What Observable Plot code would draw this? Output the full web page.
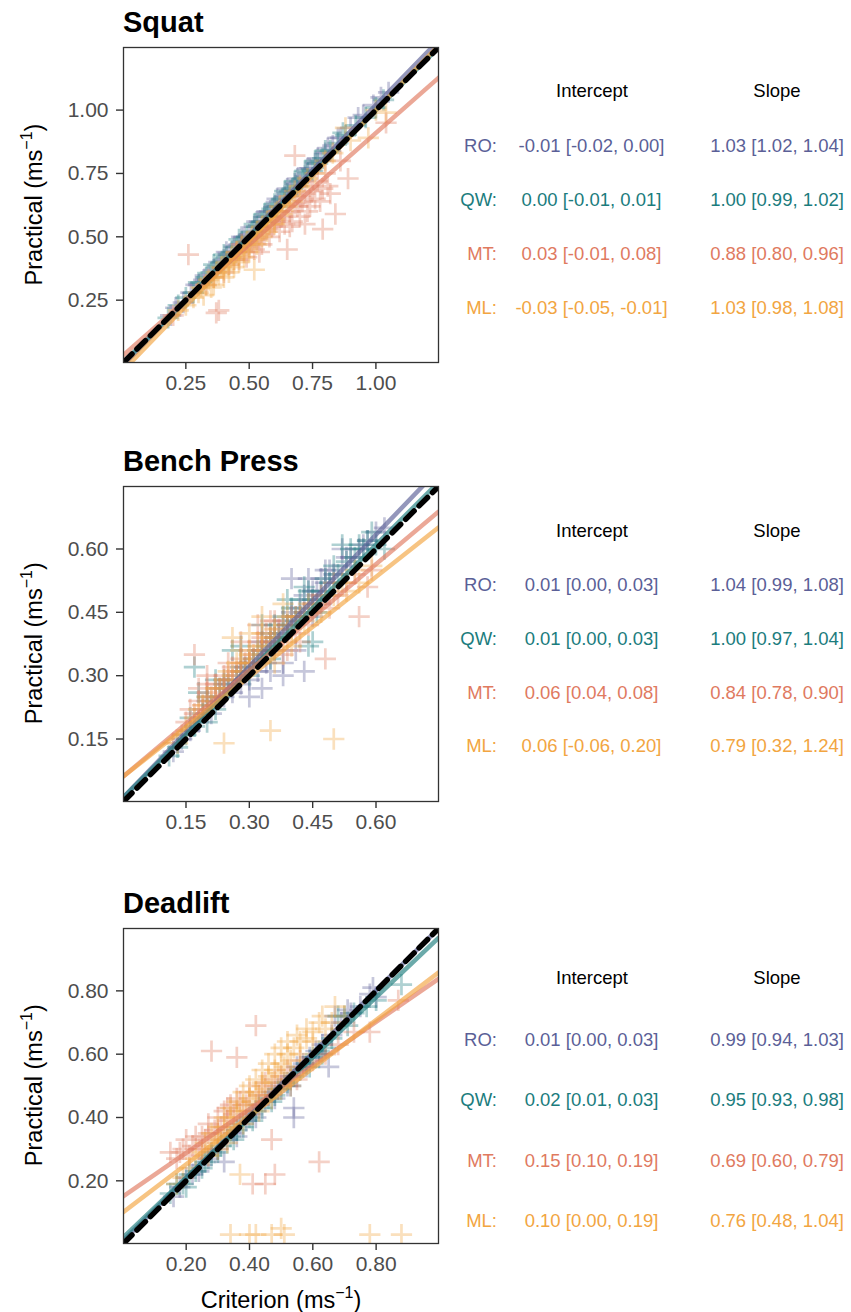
<!DOCTYPE html>
<html><head><meta charset="utf-8">
<script src="https://cdn.jsdelivr.net/npm/d3@7"></script>
<script src="https://cdn.jsdelivr.net/npm/@observablehq/plot@0.6"></script>
<style>
body{margin:0;background:#fff;font-family:"Liberation Sans",Arial,Helvetica,sans-serif;}
#root{position:relative;width:851px;height:1312px;overflow:hidden;background:#fff;}
#root > svg.plotpanel{position:absolute;left:0;}
#overlay{position:absolute;left:0;top:0;pointer-events:none;}
</style></head><body><div id="root"></div>
<script>
// ---------- shared ----------
const groups = ["RO", "QW", "MT", "ML"];
const colors = ["#5B5F97", "#1B7C7D", "#E07A5F", "#F2A541"];

// ---------- Squat ----------
const squatDomain = [0.004, 1.247];
const squatTicks = [0.25, 0.50, 0.75, 1.00];
const squatRO = [[0.19,0.19],[0.21,0.22],[0.24,0.24],[0.27,0.28],[0.30,0.31],[0.32,0.33],[0.34,0.35],[0.36,0.37],[0.38,0.40],[0.40,0.41],[0.42,0.43],[0.44,0.46],[0.46,0.47],[0.48,0.50],[0.50,0.51],[0.52,0.54],[0.54,0.56],[0.56,0.58],[0.58,0.60],[0.60,0.62],[0.62,0.64],[0.64,0.66],[0.66,0.68],[0.68,0.71],[0.70,0.72],[0.72,0.74],[0.74,0.77],[0.76,0.79],[0.78,0.80],[0.80,0.83],[0.83,0.86],[0.86,0.89],[0.90,0.93],[0.95,0.98],[0.99,1.02],[1.02,1.05],[1.05,1.07],
  [0.29,0.31],[0.41,0.44],[0.47,0.50],[0.53,0.56],[0.57,0.60],[0.61,0.65],[0.65,0.69],[0.69,0.73],[0.73,0.77],[0.77,0.81],[0.81,0.85],[0.85,0.89],[0.93,0.97]];
const squatQW = [[0.18,0.18],[0.22,0.23],[0.25,0.26],[0.28,0.28],[0.31,0.32],[0.33,0.34],[0.35,0.36],[0.37,0.38],[0.39,0.40],[0.41,0.42],[0.43,0.44],[0.45,0.46],[0.47,0.48],[0.49,0.50],[0.51,0.52],[0.53,0.54],[0.55,0.56],[0.57,0.58],[0.59,0.61],[0.61,0.62],[0.63,0.65],[0.65,0.67],[0.67,0.69],[0.69,0.70],[0.71,0.73],[0.73,0.75],[0.75,0.76],[0.77,0.79],[0.79,0.81],[0.82,0.84],[0.85,0.87],[0.88,0.90],[0.92,0.94],[0.96,0.97],[1.00,1.01],[1.03,1.04],
  [0.30,0.32],[0.36,0.39],[0.40,0.43],[0.46,0.49],[0.52,0.55],[0.56,0.59],[0.60,0.63],[0.64,0.68],[0.68,0.72],[0.72,0.76],[0.76,0.80],[0.80,0.84],[0.87,0.91]];
const squatMT = [[0.20,0.19],[0.26,0.43],[0.37,0.20],[0.38,0.21],[0.33,0.31],[0.36,0.34],[0.40,0.36],[0.42,0.39],[0.44,0.41],[0.46,0.41],[0.48,0.44],[0.50,0.46],[0.52,0.45],[0.53,0.49],[0.55,0.47],[0.56,0.51],[0.58,0.50],[0.59,0.54],[0.60,0.56],[0.62,0.52],[0.63,0.58],[0.64,0.55],[0.65,0.45],[0.66,0.60],[0.67,0.56],[0.68,0.82],[0.69,0.62],[0.70,0.58],[0.71,0.64],[0.72,0.55],[0.72,0.67],[0.74,0.62],[0.75,0.68],[0.76,0.65],[0.77,0.72],[0.79,0.53],[0.79,0.69],[0.80,0.75],[0.82,0.67],[0.84,0.59],[0.86,0.80],[0.89,0.73],[1.04,0.95],
  [0.45,0.44],[0.47,0.47],[0.49,0.42],[0.51,0.48],[0.54,0.44],[0.57,0.53],[0.61,0.57],[0.62,0.60],[0.66,0.54],[0.68,0.63],[0.70,0.66],[0.73,0.60],[0.74,0.70],[0.78,0.64],[0.81,0.70]];
const squatML = [[0.22,0.21],[0.25,0.23],[0.28,0.26],[0.30,0.28],[0.31,0.30],[0.33,0.31],[0.34,0.33],[0.35,0.30],[0.36,0.34],[0.37,0.36],[0.38,0.35],[0.39,0.38],[0.40,0.37],[0.41,0.40],[0.42,0.39],[0.43,0.42],[0.44,0.41],[0.45,0.44],[0.46,0.43],[0.47,0.46],[0.48,0.45],[0.49,0.48],[0.50,0.47],[0.51,0.50],[0.52,0.37],[0.52,0.49],[0.53,0.52],[0.54,0.51],[0.55,0.54],[0.56,0.53],[0.57,0.56],[0.58,0.55],[0.59,0.58],[0.60,0.57],[0.61,0.60],[0.62,0.62],[0.64,0.63],[0.66,0.66],[0.68,0.68],[0.70,0.70],[0.73,0.73],[0.76,0.75],[0.80,0.80],[0.83,0.83],[0.88,0.93],[0.90,0.88],[0.97,0.89],[1.00,1.00],[1.04,0.99],
  [0.32,0.27],[0.36,0.31],[0.40,0.34],[0.42,0.36],[0.44,0.38],[0.46,0.40],[0.48,0.42],[0.50,0.44],[0.53,0.47],[0.55,0.50],[0.57,0.52],[0.60,0.55],[0.63,0.59],[0.65,0.62],[0.67,0.64]];
const squatInt = [-0.01, 0.00, 0.03, -0.03];
const squatIntLo = [-0.02, -0.01, -0.01, -0.05];
const squatIntHi = [0.00, 0.01, 0.08, -0.01];
const squatSlope = [1.03, 1.00, 0.88, 1.03];
const squatSlopeLo = [1.02, 0.99, 0.80, 0.98];
const squatSlopeHi = [1.04, 1.02, 0.96, 1.08];

// ---------- Bench Press ----------
const benchDomain = [0.002, 0.748];
const benchTicks = [0.15, 0.30, 0.45, 0.60];
const benchRO = [[0.12,0.12],[0.14,0.15],[0.16,0.17],[0.18,0.19],[0.19,0.22],[0.21,0.21],[0.22,0.24],[0.23,0.27],[0.24,0.25],[0.25,0.28],[0.26,0.26],[0.27,0.30],[0.28,0.28],[0.29,0.32],[0.30,0.29],[0.31,0.33],[0.32,0.31],[0.33,0.36],[0.34,0.33],[0.35,0.38],[0.36,0.36],[0.37,0.40],[0.38,0.33],[0.39,0.42],[0.40,0.53],[0.41,0.44],[0.42,0.46],[0.43,0.31],[0.44,0.48],[0.46,0.50],[0.47,0.47],[0.48,0.52],[0.50,0.54],[0.52,0.56],[0.54,0.58],[0.56,0.60],[0.58,0.62],[0.60,0.64],[0.62,0.65],
  [0.20,0.24],[0.24,0.29],[0.28,0.31],[0.30,0.33],[0.33,0.38],[0.36,0.39],[0.38,0.43],[0.40,0.45],[0.43,0.49],[0.45,0.50],[0.47,0.53],[0.49,0.55],[0.53,0.58],[0.57,0.61],
  [0.35,0.31],[0.38,0.30],[0.41,0.36],[0.45,0.44],[0.33,0.27],[0.30,0.25],[0.44,0.53],[0.48,0.55],[0.52,0.60]];
const benchQW = [[0.11,0.11],[0.13,0.13],[0.15,0.16],[0.17,0.32],[0.17,0.18],[0.18,0.26],[0.19,0.21],[0.20,0.19],[0.21,0.23],[0.22,0.22],[0.23,0.25],[0.25,0.27],[0.26,0.36],[0.27,0.29],[0.29,0.31],[0.30,0.30],[0.31,0.34],[0.33,0.35],[0.34,0.37],[0.35,0.34],[0.36,0.42],[0.37,0.39],[0.39,0.42],[0.41,0.43],[0.43,0.45],[0.44,0.37],[0.45,0.48],[0.46,0.45],[0.47,0.50],[0.49,0.52],[0.51,0.54],[0.53,0.57],[0.55,0.58],[0.57,0.60],[0.58,0.62],[0.60,0.61],[0.62,0.60],
  [0.16,0.20],[0.20,0.25],[0.24,0.28],[0.28,0.32],[0.32,0.36],[0.35,0.40],[0.38,0.44],[0.40,0.46],[0.42,0.48],[0.44,0.50],[0.48,0.53],[0.50,0.56],[0.54,0.60],[0.56,0.61],
  [0.39,0.48],[0.43,0.51],[0.33,0.42],[0.28,0.37],[0.22,0.29],[0.45,0.38],[0.52,0.61],[0.59,0.64]];
const benchMT = [[0.12,0.14],[0.14,0.16],[0.15,0.19],[0.17,0.35],[0.17,0.21],[0.18,0.24],[0.19,0.23],[0.20,0.26],[0.21,0.25],[0.22,0.28],[0.23,0.27],[0.24,0.30],[0.25,0.29],[0.26,0.32],[0.27,0.31],[0.28,0.34],[0.29,0.33],[0.30,0.36],[0.31,0.35],[0.32,0.38],[0.33,0.36],[0.34,0.40],[0.35,0.38],[0.37,0.41],[0.38,0.35],[0.39,0.42],[0.41,0.40],[0.42,0.44],[0.44,0.42],[0.46,0.47],[0.48,0.34],[0.49,0.46],[0.51,0.49],[0.53,0.52],[0.56,0.44],[0.58,0.51],[0.59,0.55],
  [0.16,0.22],[0.18,0.27],[0.20,0.28],[0.22,0.25],[0.24,0.27],[0.26,0.29],[0.28,0.31],[0.30,0.33],[0.33,0.39],[0.36,0.43],[0.40,0.44],[0.43,0.45],[0.45,0.47],[0.47,0.49],[0.50,0.52],[0.55,0.54],
  [0.28,0.38],[0.32,0.42],[0.35,0.43],[0.39,0.36],[0.42,0.38],[0.20,0.30],[0.25,0.33]];
const benchML = [[0.13,0.14],[0.15,0.17],[0.17,0.20],[0.19,0.23],[0.21,0.24],[0.22,0.27],[0.24,0.14],[0.24,0.29],[0.26,0.39],[0.26,0.30],[0.28,0.33],[0.29,0.31],[0.30,0.35],[0.31,0.34],[0.32,0.37],[0.33,0.40],[0.34,0.36],[0.35,0.17],[0.35,0.39],[0.36,0.41],[0.37,0.38],[0.38,0.42],[0.40,0.41],[0.41,0.44],[0.43,0.43],[0.45,0.46],[0.47,0.45],[0.50,0.15],[0.50,0.49],[0.53,0.50],[0.56,0.52],[0.59,0.56],
  [0.18,0.22],[0.20,0.25],[0.23,0.27],[0.25,0.31],[0.27,0.33],[0.30,0.33],[0.33,0.37],[0.36,0.39],[0.39,0.44],[0.42,0.44],[0.44,0.47],[0.48,0.49],[0.52,0.52],[0.55,0.55],
  [0.30,0.40],[0.33,0.44],[0.38,0.47],[0.36,0.33],[0.40,0.37],[0.28,0.36]];
const benchInt = [0.01, 0.01, 0.06, 0.06];
const benchIntLo = [0.00, 0.00, 0.04, -0.06];
const benchIntHi = [0.03, 0.03, 0.08, 0.20];
const benchSlope = [1.04, 1.00, 0.84, 0.79];
const benchSlopeLo = [0.99, 0.97, 0.78, 0.32];
const benchSlopeHi = [1.08, 1.04, 0.90, 1.24];

// ---------- Deadlift ----------
const deadDomain = [0.002, 0.997];
const deadTicks = [0.20, 0.40, 0.60, 0.80];
const deadRO = [[0.16,0.15],[0.18,0.18],[0.20,0.21],[0.22,0.22],[0.25,0.25],[0.27,0.27],[0.30,0.30],[0.32,0.26],[0.33,0.33],[0.35,0.35],[0.37,0.38],[0.39,0.39],[0.41,0.41],[0.43,0.44],[0.45,0.45],[0.47,0.48],[0.49,0.49],[0.51,0.51],[0.53,0.53],[0.54,0.43],[0.54,0.40],[0.55,0.56],[0.57,0.57],[0.59,0.59],[0.61,0.61],[0.63,0.63],[0.65,0.56],[0.66,0.66],[0.69,0.70],[0.72,0.73],[0.75,0.75],[0.78,0.79],[0.79,0.81],[0.80,0.78],
  [0.24,0.23],[0.28,0.29],[0.36,0.34],[0.42,0.40],[0.48,0.46],[0.52,0.50],[0.58,0.56],[0.62,0.60],[0.67,0.72],[0.71,0.74]];
const deadQW = [[0.15,0.16],[0.17,0.19],[0.19,0.19],[0.21,0.22],[0.23,0.23],[0.26,0.26],[0.28,0.28],[0.31,0.31],[0.34,0.34],[0.36,0.36],[0.38,0.37],[0.40,0.40],[0.42,0.42],[0.44,0.43],[0.46,0.46],[0.48,0.47],[0.50,0.49],[0.52,0.51],[0.54,0.53],[0.56,0.55],[0.58,0.57],[0.60,0.59],[0.62,0.61],[0.64,0.62],[0.66,0.65],[0.68,0.72],[0.71,0.69],[0.73,0.73],[0.77,0.75],[0.80,0.77],[0.88,0.82],
  [0.20,0.18],[0.25,0.24],[0.30,0.29],[0.35,0.33],[0.41,0.39],[0.47,0.45],[0.53,0.50],[0.59,0.56],[0.63,0.60],[0.70,0.72]];
const deadMT = [[0.15,0.29],[0.17,0.27],[0.19,0.30],[0.21,0.28],[0.22,0.31],[0.24,0.30],[0.25,0.34],[0.26,0.33],[0.27,0.38],[0.28,0.61],[0.29,0.36],[0.30,0.40],[0.31,0.37],[0.32,0.42],[0.33,0.39],[0.34,0.44],[0.36,0.59],[0.36,0.46],[0.38,0.42],[0.40,0.48],[0.41,0.19],[0.42,0.69],[0.42,0.44],[0.44,0.50],[0.45,0.19],[0.46,0.47],[0.47,0.33],[0.48,0.22],[0.48,0.52],[0.50,0.50],[0.52,0.55],[0.55,0.52],[0.57,0.56],[0.60,0.58],[0.62,0.26],[0.64,0.60],[0.68,0.63],[0.73,0.67],[0.78,0.67],[0.87,0.77],
  [0.18,0.29],[0.20,0.33],[0.23,0.34],[0.25,0.30],[0.27,0.35],[0.30,0.35],[0.33,0.43],[0.35,0.41],[0.37,0.45],[0.39,0.44],[0.43,0.47],[0.45,0.51],[0.50,0.53],[0.53,0.50],[0.56,0.58]];
const deadML = [[0.17,0.19],[0.19,0.21],[0.21,0.24],[0.23,0.27],[0.25,0.29],[0.26,0.32],[0.27,0.28],[0.28,0.35],[0.29,0.31],[0.30,0.37],[0.31,0.33],[0.32,0.40],[0.33,0.36],[0.34,0.03],[0.34,0.43],[0.35,0.38],[0.36,0.45],[0.37,0.22],[0.37,0.40],[0.38,0.48],[0.39,0.42],[0.40,0.03],[0.40,0.50],[0.41,0.45],[0.42,0.52],[0.42,0.03],[0.43,0.47],[0.44,0.55],[0.45,0.49],[0.46,0.57],[0.47,0.03],[0.47,0.51],[0.48,0.60],[0.49,0.54],[0.50,0.05],[0.50,0.62],[0.51,0.03],[0.51,0.56],[0.52,0.64],[0.53,0.58],[0.55,0.66],[0.56,0.60],[0.58,0.68],[0.60,0.64],[0.62,0.70],[0.64,0.68],[0.67,0.75],[0.70,0.72],[0.78,0.03],[0.88,0.03],
  [0.30,0.34],[0.32,0.37],[0.34,0.40],[0.36,0.42],[0.38,0.44],[0.40,0.46],[0.42,0.48],[0.44,0.51],[0.46,0.53],[0.48,0.55],[0.50,0.57],[0.52,0.60],[0.54,0.62],[0.56,0.64],[0.58,0.65],[0.60,0.67],[0.63,0.72],[0.66,0.70],[0.30,0.30],[0.33,0.32],[0.38,0.38],[0.43,0.42],[0.47,0.46],[0.53,0.52]];
const deadInt = [0.01, 0.02, 0.15, 0.10];
const deadIntLo = [0.00, 0.01, 0.10, 0.00];
const deadIntHi = [0.03, 0.03, 0.19, 0.19];
const deadSlope = [0.99, 0.95, 0.69, 0.76];
const deadSlopeLo = [0.94, 0.93, 0.60, 0.48];
const deadSlopeHi = [1.03, 0.98, 0.79, 1.04];

// ---------- text ----------
const titles = ["Squat", "Bench Press", "Deadlift"];
const yLabel = "Practical (ms";
const xLabel = "Criterion (ms";
const headers = ["Intercept", "Slope"];

// ---------- layout ----------
const FONT = '"Liberation Sans", Arial, Helvetica, sans-serif';
const frameTops = [47, 485.7, 927.7];
const frameLeft = 123, frameSize = 315;
const tableRows = [
  [97.3, 151.7, 205.9, 260.0, 314.0],
  [536.7, 590.7, 645.0, 699.0, 752.3],
  [984.3, 1045.7, 1106.0, 1166.7, 1226.7]
];

const panels = [
  {domain: squatDomain, ticks: squatTicks, series: [squatRO, squatQW, squatMT, squatML],
   int: squatInt, intLo: squatIntLo, intHi: squatIntHi, slope: squatSlope, slopeLo: squatSlopeLo, slopeHi: squatSlopeHi},
  {domain: benchDomain, ticks: benchTicks, series: [benchRO, benchQW, benchMT, benchML],
   int: benchInt, intLo: benchIntLo, intHi: benchIntHi, slope: benchSlope, slopeLo: benchSlopeLo, slopeHi: benchSlopeHi},
  {domain: deadDomain, ticks: deadTicks, series: [deadRO, deadQW, deadMT, deadML],
   int: deadInt, intLo: deadIntLo, intHi: deadIntHi, slope: deadSlope, slopeLo: deadSlopeLo, slopeHi: deadSlopeHi}
];

const root = document.getElementById("root");
const f2 = v => v.toFixed(2);

panels.forEach((p, i) => {
  const points = p.series.flatMap((arr, k) => arr.map(([x, y]) => ({g: groups[k], x, y})));
  const reg = groups.flatMap((g, k) => p.domain.map(x => ({g, x, y: p.int[k] + p.slope[k] * x})));
  const ident = p.domain.map(x => ({x, y: x}));
  const chart = Plot.plot({
    width: 445, height: 47 + frameSize + 48,
    marginLeft: frameLeft, marginRight: 445 - frameLeft - frameSize, marginTop: 47, marginBottom: 48,
    x: {domain: p.domain, label: null},
    y: {domain: p.domain, label: null},
    color: {domain: groups, range: colors},
    style: {fontFamily: FONT, fontSize: "21px", background: "transparent", overflow: "visible"},
    marks: [
      Plot.dot(points, {x: "x", y: "y", stroke: "g", symbol: "plus", r: 6.9, strokeWidth: 2.7, strokeOpacity: 0.35, clip: true}),
      Plot.line(reg, {x: "x", y: "y", z: "g", stroke: "g", strokeWidth: 4.5, strokeOpacity: 0.65, clip: true}),
      Plot.line(ident, {x: "x", y: "y", stroke: "black", strokeWidth: 5.5, strokeDasharray: "12,7", clip: true}),
      Plot.frame({stroke: "#333333", strokeWidth: 1.3}),
      Plot.axisX(p.ticks, {tickFormat: f2, tickSize: 7, tickPadding: 6, stroke: "#333333", strokeWidth: 1.4, fill: "#4d4d4d", fontSize: 21, label: null}),
      Plot.axisY(p.ticks, {tickFormat: f2, tickSize: 7, tickPadding: 8, stroke: "#333333", strokeWidth: 1.4, fill: "#4d4d4d", fontSize: 21, label: null})
    ]
  });
  chart.classList.add("plotpanel");
  chart.style.top = (frameTops[i] - 47) + "px";
  root.appendChild(chart);
});

// ---------- overlay text: titles, axis titles, tables ----------
const svg = d3.select(root).append("svg").attr("id", "overlay")
  .attr("width", 851).attr("height", 1312)
  .style("font-family", FONT);

panels.forEach((p, i) => {
  const top = frameTops[i];
  svg.append("text").attr("x", 123).attr("y", top - 15)
    .attr("font-size", 29).attr("font-weight", "bold").attr("fill", "#000").text(titles[i]);

  const yl = svg.append("text")
    .attr("transform", `translate(41.5,${top + frameSize / 2}) rotate(-90)`)
    .attr("text-anchor", "middle").attr("font-size", 23.5).attr("fill", "#000");
  yl.append("tspan").text(yLabel);
  yl.append("tspan").attr("font-size", 16).attr("dy", -10).text("\u22121");
  yl.append("tspan").attr("dy", 10).text(")");

  const rows = tableRows[i];
  svg.append("text").attr("x", 592).attr("y", rows[0]).attr("text-anchor", "middle")
    .attr("font-size", 18.5).attr("fill", "#000").text(headers[0]);
  svg.append("text").attr("x", 777).attr("y", rows[0]).attr("text-anchor", "middle")
    .attr("font-size", 18.5).attr("fill", "#000").text(headers[1]);
  groups.forEach((g, k) => {
    const y = rows[k + 1];
    svg.append("text").attr("x", 497).attr("y", y).attr("text-anchor", "end")
      .attr("font-size", 18.5).attr("fill", colors[k]).text(g + ":");
    svg.append("text").attr("x", 591.5).attr("y", y).attr("text-anchor", "middle")
      .attr("font-size", 18.5).attr("fill", colors[k])
      .text(`${f2(p.int[k])} [${f2(p.intLo[k])}, ${f2(p.intHi[k])}]`);
    svg.append("text").attr("x", 777).attr("y", y).attr("text-anchor", "middle")
      .attr("font-size", 18.5).attr("fill", colors[k])
      .text(`${f2(p.slope[k])} [${f2(p.slopeLo[k])}, ${f2(p.slopeHi[k])}]`);
  });
});

const xl = svg.append("text").attr("x", 281).attr("y", 1308)
  .attr("text-anchor", "middle").attr("font-size", 23.5).attr("fill", "#000");
xl.append("tspan").text(xLabel);
xl.append("tspan").attr("font-size", 16).attr("dy", -10).text("\u22121");
xl.append("tspan").attr("dy", 10).text(")");
</script>
</body></html>
